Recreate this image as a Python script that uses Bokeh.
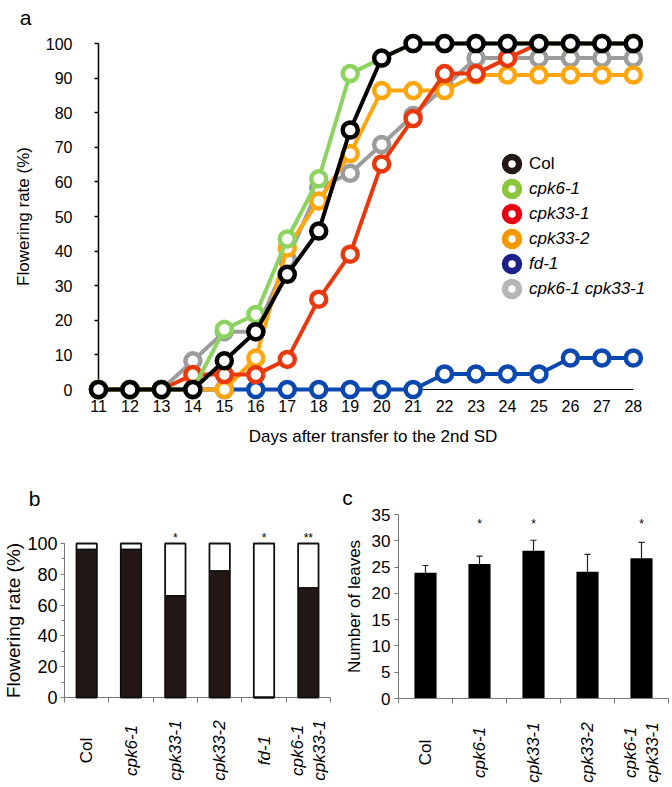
import numpy as np
from bokeh.plotting import figure
from bokeh.models import (ColumnDataSource, Legend, LegendItem, FixedTicker,
                          SingleIntervalTicker, Whisker, TeeHead, Range1d)
from bokeh.layouts import column, row
from bokeh.embed import file_html
from bokeh.resources import INLINE
from bokeh.core.properties import value

FONT = "Liberation Sans"

# ---------------- data: panel a ----------------
days = [11, 12, 13, 14, 15, 16, 17, 18, 19, 20, 21, 22, 23, 24, 25, 26, 27, 28]
rate_col = [0, 0, 0, 0, 8.3, 16.7, 33.3, 45.8, 75.0, 95.8, 100, 100, 100, 100, 100, 100, 100, 100]
rate_cpk6_1 = [0, 0, 0, 0, 17.4, 21.7, 43.5, 60.9, 91.3, 95.7, 100, 100, 100, 100, 100, 100, 100, 100]
rate_cpk33_1 = [0, 0, 0, 4.3, 4.3, 4.3, 8.7, 26.1, 39.1, 65.2, 78.3, 91.3, 91.3, 95.7, 100, 100, 100, 100]
rate_cpk33_2 = [0, 0, 0, 0, 0, 9.1, 40.9, 54.5, 68.2, 86.4, 86.4, 86.4, 90.9, 90.9, 90.9, 90.9, 90.9, 90.9]
rate_fd_1 = [0, 0, 0, 0, 0, 0, 0, 0, 0, 0, 0, 4.5, 4.5, 4.5, 4.5, 9.1, 9.1, 9.1]
rate_double = [0, 0, 0, 8.3, 16.7, 16.7, 37.5, 58.3, 62.5, 70.8, 79.2, 87.5, 95.8, 95.8, 95.8, 95.8, 95.8, 95.8]

series_names = ["Col", "cpk6-1", "cpk33-1", "cpk33-2", "fd-1", "cpk6-1 cpk33-1"]
series_values = [rate_col, rate_cpk6_1, rate_cpk33_1, rate_cpk33_2, rate_fd_1, rate_double]
line_colors = ["#000000", "#8dd35f", "#e8380d", "#ffa60f", "#0a48b0", "#9c9c9c"]
legend_colors = ["#231815", "#8cc63f", "#e60012", "#f39800", "#1d2088", "#b5b5b5"]
draw_order = [4, 5, 3, 2, 1, 0]

# ---------------- data: panel b ----------------
geno_b = ["Col", "cpk6-1", "cpk33-1", "cpk33-2", "fd-1", "cpk6-1\ncpk33-1"]
flowered_b = [96, 96, 66, 82, 0, 71]
sig_b = ["", "", "*", "", "*", "**"]

# ---------------- data: panel c ----------------
geno_c = ["Col", "cpk6-1", "cpk33-1", "cpk33-2", "cpk6-1\ncpk33-1"]
leaves_c = [23.9, 25.6, 28.1, 24.1, 26.7]
leaves_sd_c = [1.4, 1.5, 2.0, 3.3, 3.0]
sig_c = ["", "*", "*", "", "*"]


def style_axis(ax, size, color="#000000"):
    ax.major_label_text_font = FONT
    ax.major_label_text_font_size = size
    ax.major_label_text_color = "#000000"
    ax.axis_label_text_font = FONT
    ax.axis_label_text_font_style = "normal"
    ax.axis_label_text_color = "#000000"
    ax.axis_line_color = color
    ax.major_tick_line_color = color
    ax.minor_tick_line_color = color
    ax.major_tick_in = 0
    ax.minor_tick_in = 0


def panel_letter(p, letter, dx, dy):
    p.text(x=[p.x_range.start], y=[p.y_range.end], text=[letter], x_offset=dx, y_offset=dy,
           text_font=value(FONT), text_font_size="21px", text_color="#000000",
           text_align="center", text_baseline="alphabetic", level="overlay")


def category_labels(p, names, centers, size, offset, line_gap):
    d = dict(x=[], y=[], text=[], dx=[], style=[])
    for name, cx in zip(names, centers):
        lines = name.split("\n")
        k = len(lines)
        for j, ln in enumerate(lines):
            d["x"].append(cx)
            d["y"].append(p.y_range.start)
            d["text"].append(ln)
            d["dx"].append((j - (k - 1) / 2) * line_gap)
            d["style"].append("normal" if ln == "Col" else "italic")
    p.text(x="x", y="y", text="text", source=ColumnDataSource(d), x_offset="dx", y_offset=offset,
           angle=np.pi / 2, text_align="center", text_baseline="middle",
           text_font=value(FONT), text_font_size=size, text_font_style="style",
           text_color="#000000", level="overlay")


# ================= panel a =================
pa = figure(width=672, height=460, x_range=Range1d(11, 28.45), y_range=Range1d(0, 100),
            output_backend="svg", toolbar_location=None, frame_align=False,
            min_border_left=98, min_border_right=25, min_border_top=43, min_border_bottom=71)
pa.grid.visible = False
pa.outline_line_color = None

style_axis(pa.yaxis[0], "16px")
pa.yaxis[0].ticker = SingleIntervalTicker(interval=10, num_minor_ticks=0)
pa.yaxis[0].bounds = (0, 100)
pa.yaxis[0].major_tick_out = 4
pa.yaxis[0].major_label_standoff = 22
pa.yaxis[0].axis_line_width = 1.5
pa.yaxis[0].major_tick_line_width = 1.5
pa.yaxis[0].axis_label = "Flowering rate (%)"
pa.yaxis[0].axis_label_text_font_size = "17px"
pa.yaxis[0].axis_label_standoff = 10

style_axis(pa.xaxis[0], "16px")
pa.xaxis[0].ticker = SingleIntervalTicker(interval=1, num_minor_ticks=0)
pa.xaxis[0].bounds = (days[0], days[-1])
pa.xaxis[0].major_tick_out = 0
pa.xaxis[0].major_label_standoff = 10
pa.xaxis[0].axis_line_width = 1.2
pa.xaxis[0].axis_label = "Days after transfer to the 2nd SD"
pa.xaxis[0].axis_label_text_font_size = "17px"
pa.xaxis[0].axis_label_standoff = 12

for i in draw_order:
    src = ColumnDataSource(dict(day=days, rate=series_values[i]))
    pa.line("day", "rate", source=src, line_color=line_colors[i], line_width=4, level="overlay")
    pa.scatter("day", "rate", source=src, marker="circle", size=15, fill_color="white",
               line_color=line_colors[i], line_width=4.5, level="overlay")

for i, name in enumerate(series_names):
    dummy = pa.scatter(x=[np.nan], y=[np.nan], marker="circle", size=1, fill_color="white",
                       line_color=legend_colors[i], line_width=6.5)
    lg = Legend(items=[LegendItem(label=name, renderers=[dummy])],
                location=(396, 208 - 25 * i), glyph_width=35, glyph_height=35,
                padding=0, margin=0, label_standoff=0, border_line_color=None,
                background_fill_alpha=0, label_text_font=FONT, label_text_font_size="17px",
                label_text_font_style="normal" if name == "Col" else "italic",
                label_text_color="#000000")
    pa.add_layout(lg)

panel_letter(pa, "a", -73, -26)

# ================= panel b =================
n_b = len(geno_b)
xb = [i + 0.5 for i in range(n_b)]
not_flowered_b = [100 - v for v in flowered_b]
pb = figure(width=335, height=327, x_range=Range1d(0, n_b), y_range=Range1d(0, 100),
            output_backend="svg", toolbar_location=None, frame_align=False,
            min_border_left=57, min_border_right=5, min_border_top=83, min_border_bottom=90)
pb.grid.visible = False
pb.outline_line_color = None
src_b = ColumnDataSource(dict(x=xb, fl=flowered_b,
                              tot=[a + b for a, b in zip(flowered_b, not_flowered_b)], sig=sig_b))
pb.vbar(x="x", width=0.46, bottom="fl", top="tot", source=src_b, fill_color="white",
        line_color="#111111", line_width=1.8, level="overlay")
pb.vbar(x="x", width=0.46, bottom=0, top="fl", source=src_b, fill_color="#231815",
        line_color="#111111", line_width=1.8, level="overlay")

style_axis(pb.yaxis[0], "18px", "#777777")
pb.yaxis[0].ticker = SingleIntervalTicker(interval=20, num_minor_ticks=2)
pb.yaxis[0].major_tick_out = 4
pb.yaxis[0].minor_tick_out = 3
pb.yaxis[0].major_label_standoff = 3
pb.yaxis[0].axis_label = "Flowering rate (%)"
pb.yaxis[0].axis_label_text_font_size = "19px"
pb.yaxis[0].axis_label_standoff = 0
style_axis(pb.xaxis[0], "16px", "#777777")
pb.xaxis[0].ticker = FixedTicker(ticks=[], minor_ticks=list(range(n_b + 1)))
pb.xaxis[0].minor_tick_out = 5

pb.text(x="x", y="tot", text="sig", source=src_b, y_offset=-6, text_align="center",
        text_baseline="alphabetic", text_font=value(FONT), text_font_size="12px",
        text_color="#000000", level="overlay")
panel_letter(pb, "b", -30, -45)
category_labels(pb, geno_b, xb, "17px", 53, 22)

# ================= panel c =================
n_c = len(geno_c)
xc = [i + 0.5 for i in range(n_c)]
pc = figure(width=337, height=327, x_range=Range1d(0, n_c), y_range=Range1d(0, 35),
            output_backend="svg", toolbar_location=None, frame_align=False,
            min_border_left=63, min_border_right=4, min_border_top=54, min_border_bottom=89)
pc.grid.visible = False
pc.outline_line_color = None
src_c = ColumnDataSource(dict(x=xc, top=leaves_c,
                              upper=[a + b for a, b in zip(leaves_c, leaves_sd_c)],
                              sig=sig_c, sy=[pc.y_range.end] * n_c))
pc.vbar(x="x", width=0.41, top="top", source=src_c, fill_color="#000000", line_color=None)
pc.add_layout(Whisker(base="x", lower="top", upper="upper", source=src_c, dimension="height",
                      line_color="#222222", line_width=1.2, lower_head=None,
                      upper_head=TeeHead(size=6, line_color="#222222", line_width=1.2)))

style_axis(pc.yaxis[0], "17px", "#777777")
pc.yaxis[0].ticker = SingleIntervalTicker(interval=5, num_minor_ticks=0)
pc.yaxis[0].major_tick_out = 4
pc.yaxis[0].major_label_standoff = 4
pc.yaxis[0].axis_label = "Number of leaves"
pc.yaxis[0].axis_label_text_font_size = "17px"
pc.yaxis[0].axis_label_standoff = 5
style_axis(pc.xaxis[0], "16px", "#777777")
pc.xaxis[0].ticker = FixedTicker(ticks=[], minor_ticks=list(range(n_c + 1)))
pc.xaxis[0].minor_tick_out = 5

pc.text(x="x", y="sy", text="sig", source=src_c, y_offset=9, text_align="center",
        text_baseline="alphabetic", text_font=value(FONT), text_font_size="12px",
        text_color="#000000", level="overlay")
panel_letter(pc, "c", -51, -17)
category_labels(pc, geno_c, xc, "17px", 54, 22)

layout = column(pa, row(pb, pc))
open("out.html", "w").write(file_html(layout, INLINE))
